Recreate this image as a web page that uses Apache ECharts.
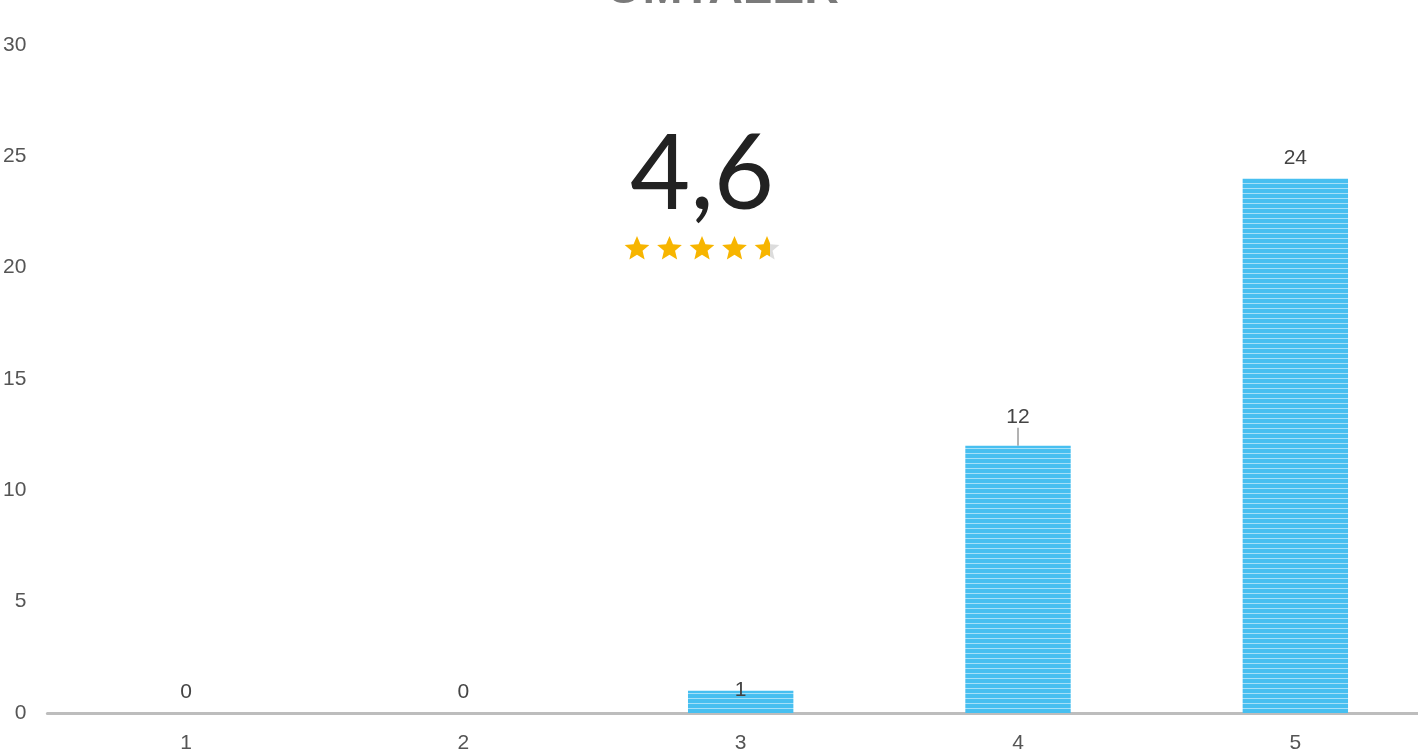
<!DOCTYPE html>
<html>
<head>
<meta charset="utf-8">
<script src="https://cdn.jsdelivr.net/npm/echarts@6/dist/echarts.min.js"></script>
<style>
  html, body { margin: 0; padding: 0; background: #fff; overflow: hidden; }
  #chart { width: 1434px; height: 755px; }
</style>
</head>
<body>
<div id="chart"></div>
<script>
// stjerner 1-5 og antall omtaler
const categories = ['1', '2', '3', '4', '5']
const counts = [0, 0, 1, 12, 24]
const titleText = 'OMTALER'

// snitt av vurderingene
const total = counts.reduce((a, b) => a + b, 0)
const rating = counts.reduce((s, c, i) => s + c * (i + 1), 0) / total
const ratingText = rating.toFixed(1).replace('.', ',')

const chart = echarts.init(document.getElementById('chart'))

// stripete fyll for søylene
function stripes() {
  const c = document.createElement('canvas')
  c.width = 4
  c.height = 5
  const ctx = c.getContext('2d')
  ctx.fillStyle = '#47bff0'
  ctx.fillRect(0, 0, 4, 5)
  ctx.fillStyle = '#a6e0f8'
  ctx.fillRect(0, 3, 4, 1)
  return c
}

// stjerne som polygon
function starPoints(cx, cy, r) {
  const pts = []
  for (let i = 0; i < 10; i++) {
    const rr = i % 2 === 0 ? r : r * 0.45
    const a = -Math.PI / 2 + i * Math.PI / 5
    pts.push([cx + rr * Math.cos(a), cy + rr * Math.sin(a)])
  }
  return pts
}

const stars = []
for (let i = 0; i < 5; i++) {
  const frac = Math.max(0, Math.min(1, rating - i))
  stars.push({
    type: 'polygon',
    shape: { points: starPoints(637 + i * 32.5, 249, 13) },
    style: {
      fill: new echarts.graphic.LinearGradient(0, 0, 1, 0, [
        { offset: 0, color: '#f7b500' },
        { offset: frac, color: '#f7b500' },
        { offset: frac, color: '#dcdcdc' },
        { offset: 1, color: '#dcdcdc' }
      ])
    }
  })
}

// flytt noen etiketter litt, bare "12" får strek
const labelShift = [0, 0, 20, -8, 0]
const barData = counts.map((v, i) => ({
  value: v,
  labelLine: { show: labelShift[i] < 0 }
}))

const options = {
  backgroundColor: '#fff',
  animation: false,
  grid: { left: 46, right: 0, top: 45, bottom: 42, containLabel: false },
  xAxis: {
    type: 'category',
    data: categories,
    axisLine: { lineStyle: { color: '#bdbdbd', width: 3 } },
    axisTick: { show: false },
    axisLabel: { color: '#555', fontSize: 21, fontFamily: 'Liberation Sans', margin: 20 }
  },
  yAxis: {
    type: 'value',
    min: 0,
    max: 30,
    interval: 5,
    axisLine: { show: false },
    axisTick: { show: false },
    splitLine: { show: false },
    axisLabel: { color: '#555', fontSize: 21, fontFamily: 'Liberation Sans', margin: 21 }
  },
  graphic: [
    {
      type: 'text',
      x: 722,
      y: -10,
      style: {
        text: titleText,
        fill: '#7a7a7a',
        font: 'bold 48px "Liberation Sans"',
        align: 'center',
        verticalAlign: 'middle'
      }
    },
    {
      type: 'text',
      x: 702,
      y: 175,
      style: {
        text: ratingText,
        fill: '#222',
        font: '104px Lato',
        align: 'center',
        verticalAlign: 'middle'
      }
    }
  ].concat(stars),
  series: [
    {
      type: 'bar',
      data: barData,
      barWidth: '38%',
      itemStyle: { color: { image: stripes(), repeat: 'repeat' } },
      label: {
        show: true,
        position: 'top',
        distance: 10,
        color: '#444',
        fontSize: 21,
        fontFamily: 'Liberation Sans'
      },
      labelLine: { lineStyle: { color: '#999', width: 1.5 } },
      labelLayout: function (p) {
        return { dy: labelShift[p.dataIndex] }
      }
    }
  ]
}

chart.setOption(options)
</script>
</body>
</html>
